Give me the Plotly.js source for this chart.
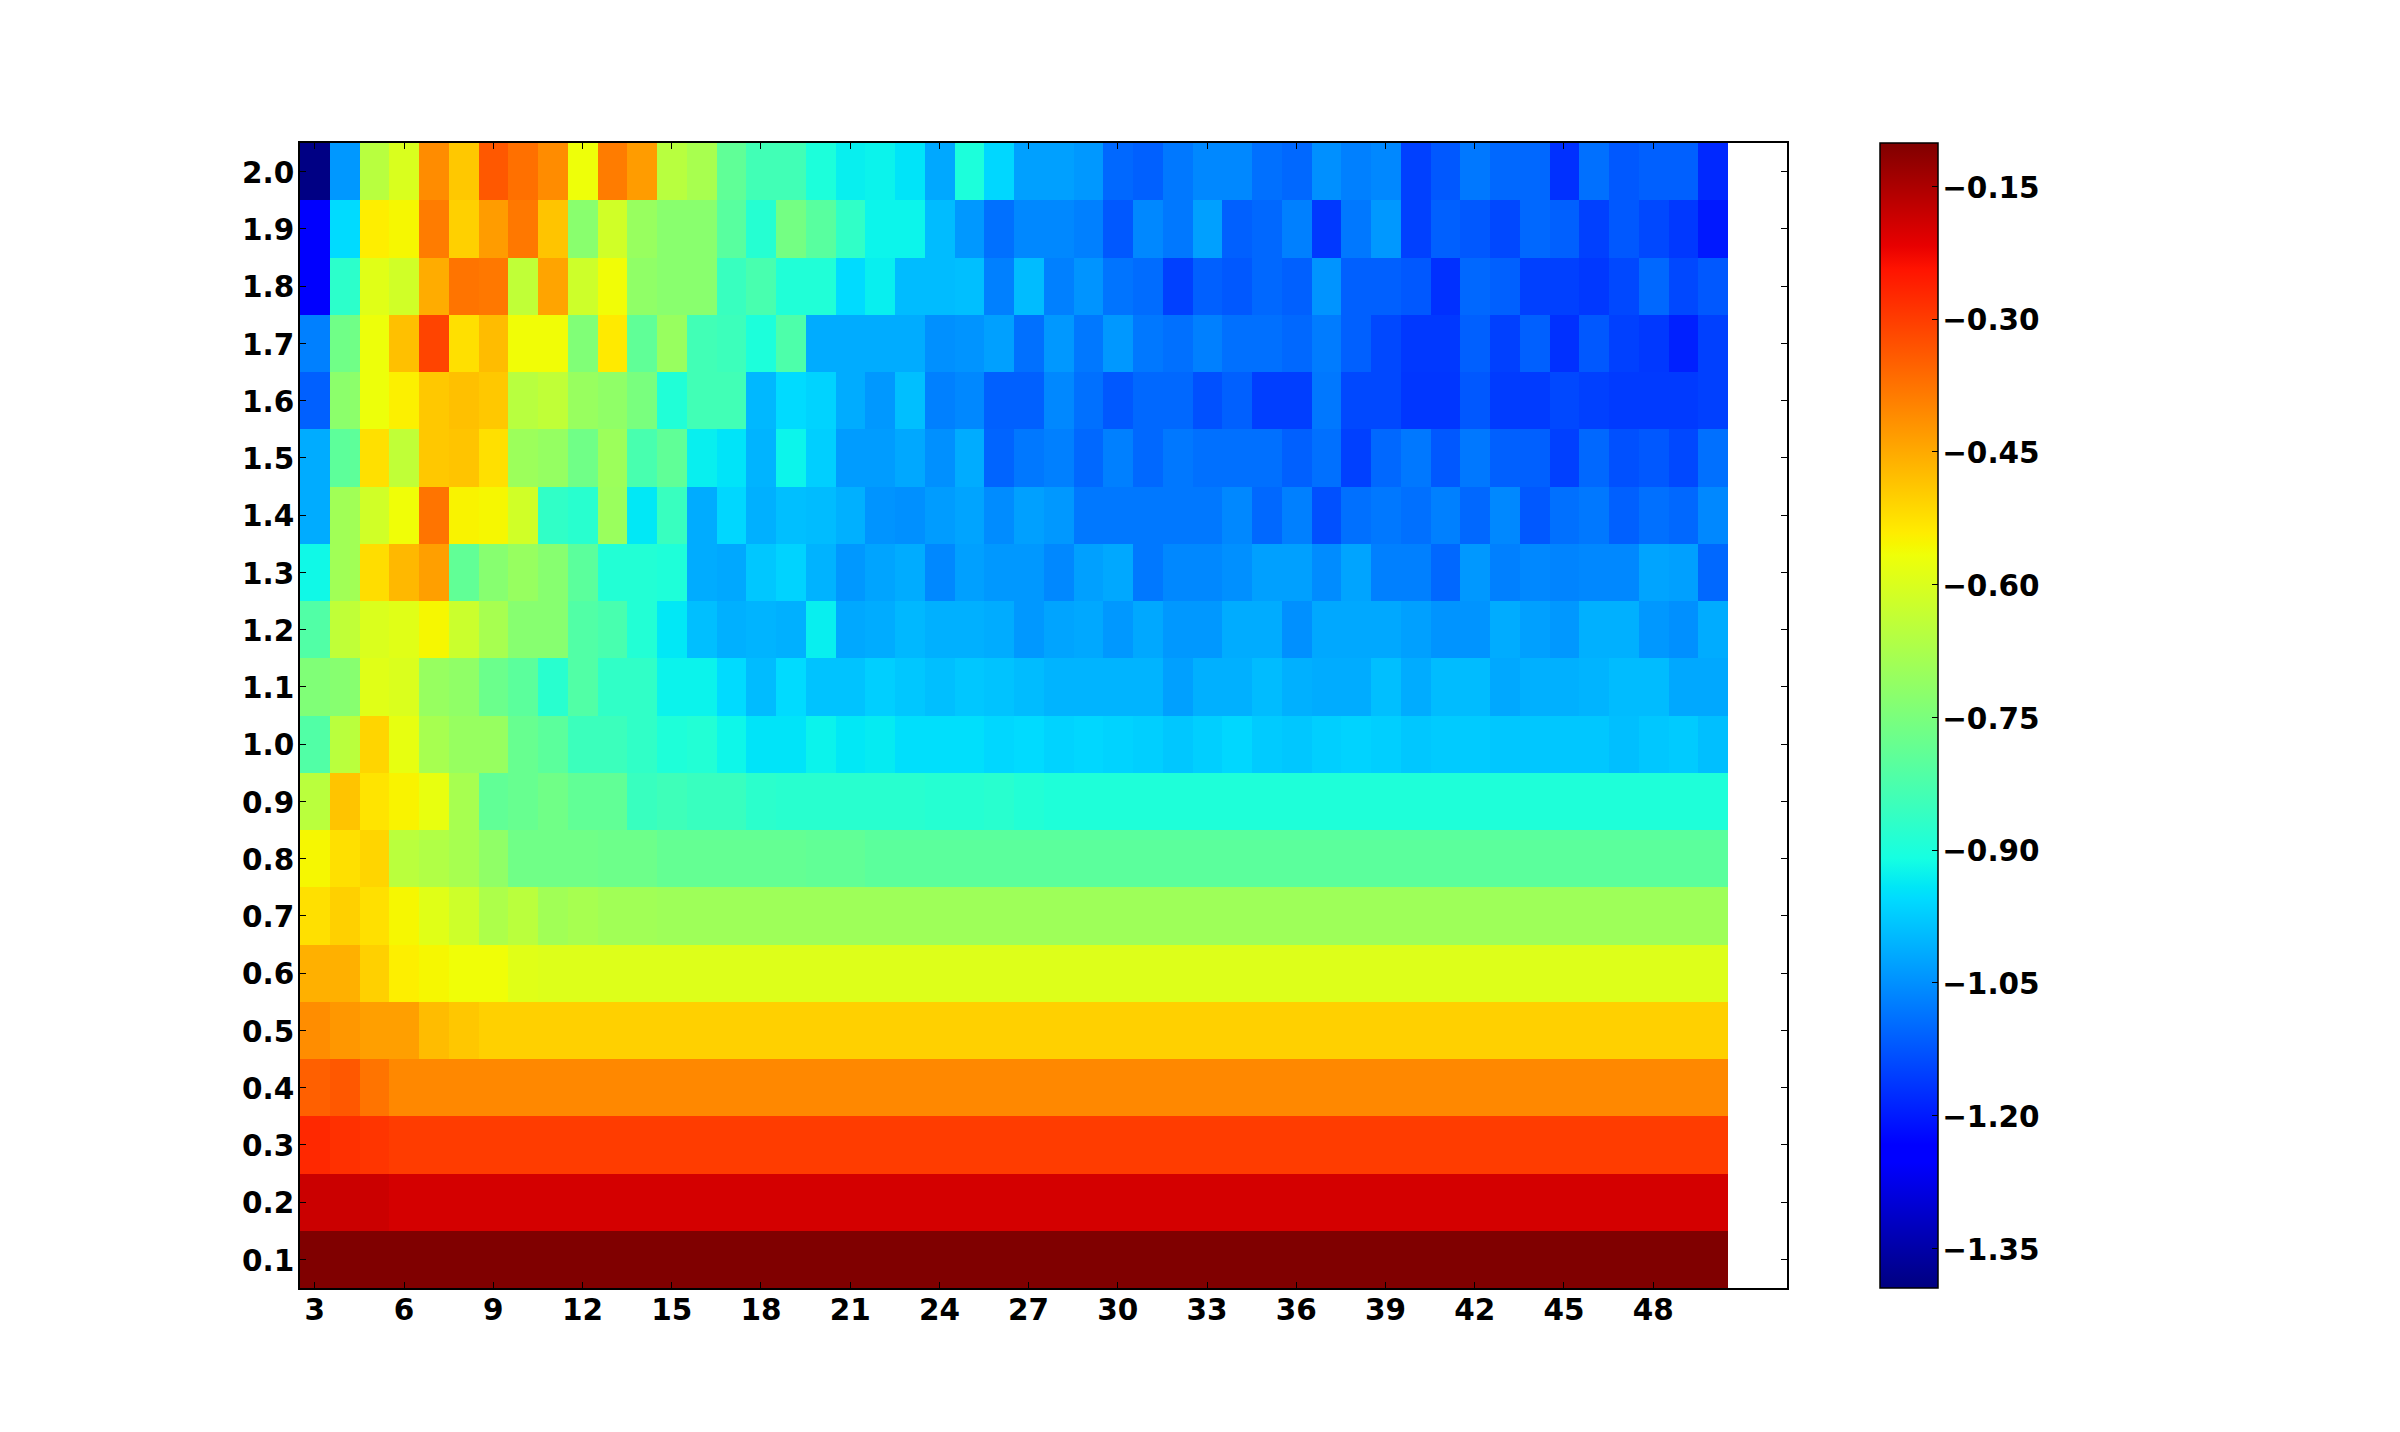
<!DOCTYPE html>
<html>
<head>
<meta charset="utf-8">
<script src="https://cdn.plot.ly/plotly-3.0.1.min.js"></script>
<style>
html, body { margin: 0; padding: 0; background: #fff; }
#chart { width: 2400px; height: 1432px; }
</style>
</head>
<body>
<div id="chart"></div>
<script>
// column positions 3..50, row positions 0.1..2.0
const columns = [3,4,5,6,7,8,9,10,11,12,13,14,15,16,17,18,19,20,21,22,23,24,25,26,27,28,29,30,31,32,33,34,35,36,37,38,39,40,41,42,43,44,45,46,47,48,49,50];
const rows = [0.1,0.2,0.3,0.4,0.5,0.6,0.7,0.8,0.9,1.0,1.1,1.2,1.3,1.4,1.5,1.6,1.7,1.8,1.9,2.0];

const xTicks = [3,6,9,12,15,18,21,24,27,30,33,36,39,42,45,48];
const yTicks = rows;
const yTickLabels = ["0.1","0.2","0.3","0.4","0.5","0.6","0.7","0.8","0.9","1.0","1.1","1.2","1.3","1.4","1.5","1.6","1.7","1.8","1.9","2.0"];
const barTicks = [-0.15,-0.30,-0.45,-0.60,-0.75,-0.90,-1.05,-1.20,-1.35];
const barTickLabels = ["\u22120.15","\u22120.30","\u22120.45","\u22120.60","\u22120.75","\u22120.90","\u22121.05","\u22121.20","\u22121.35"];

const row01 = [-0.101,-0.101,-0.101,-0.101,-0.101,-0.101,-0.101,-0.101,-0.101,-0.101,-0.101,-0.101,-0.101,-0.101,-0.101,-0.101,-0.101,-0.101,-0.101,-0.101,-0.101,-0.101,-0.101,-0.101,-0.101,-0.101,-0.101,-0.101,-0.101,-0.101,-0.101,-0.101,-0.101,-0.101,-0.101,-0.101,-0.101,-0.101,-0.101,-0.101,-0.101,-0.101,-0.101,-0.101,-0.101,-0.101,-0.101,-0.101];
const row02 = [-0.185,-0.185,-0.185,-0.195,-0.195,-0.195,-0.195,-0.195,-0.195,-0.195,-0.195,-0.195,-0.195,-0.195,-0.195,-0.195,-0.195,-0.195,-0.195,-0.195,-0.195,-0.195,-0.195,-0.195,-0.195,-0.195,-0.195,-0.195,-0.195,-0.195,-0.195,-0.195,-0.195,-0.195,-0.195,-0.195,-0.195,-0.195,-0.195,-0.195,-0.195,-0.195,-0.195,-0.195,-0.195,-0.195,-0.195,-0.195];
const row03 = [-0.272,-0.283,-0.290,-0.300,-0.300,-0.300,-0.300,-0.300,-0.300,-0.300,-0.300,-0.300,-0.300,-0.300,-0.300,-0.300,-0.300,-0.300,-0.300,-0.300,-0.300,-0.300,-0.300,-0.300,-0.300,-0.300,-0.300,-0.300,-0.300,-0.300,-0.300,-0.300,-0.300,-0.300,-0.300,-0.300,-0.300,-0.300,-0.300,-0.300,-0.300,-0.300,-0.300,-0.300,-0.300,-0.300,-0.300,-0.300];
const row04 = [-0.349,-0.338,-0.377,-0.404,-0.404,-0.404,-0.404,-0.404,-0.404,-0.404,-0.404,-0.404,-0.404,-0.404,-0.404,-0.404,-0.404,-0.404,-0.404,-0.404,-0.404,-0.404,-0.404,-0.404,-0.404,-0.404,-0.404,-0.404,-0.404,-0.404,-0.404,-0.404,-0.404,-0.404,-0.404,-0.404,-0.404,-0.404,-0.404,-0.404,-0.404,-0.404,-0.404,-0.404,-0.404,-0.404,-0.404,-0.404];
const row05 = [-0.410,-0.425,-0.436,-0.436,-0.475,-0.490,-0.502,-0.502,-0.502,-0.502,-0.502,-0.502,-0.502,-0.502,-0.502,-0.502,-0.502,-0.502,-0.502,-0.502,-0.502,-0.502,-0.502,-0.502,-0.502,-0.502,-0.502,-0.502,-0.502,-0.502,-0.502,-0.502,-0.502,-0.502,-0.502,-0.502,-0.502,-0.502,-0.502,-0.502,-0.502,-0.502,-0.502,-0.502,-0.502,-0.502,-0.502,-0.502];
const row06 = [-0.458,-0.458,-0.502,-0.545,-0.555,-0.565,-0.565,-0.590,-0.595,-0.595,-0.595,-0.595,-0.595,-0.595,-0.595,-0.595,-0.595,-0.595,-0.595,-0.595,-0.595,-0.595,-0.595,-0.595,-0.595,-0.595,-0.595,-0.595,-0.595,-0.595,-0.595,-0.595,-0.595,-0.595,-0.595,-0.595,-0.595,-0.595,-0.595,-0.595,-0.595,-0.595,-0.595,-0.595,-0.595,-0.595,-0.595,-0.595];
const row07 = [-0.524,-0.502,-0.524,-0.556,-0.590,-0.620,-0.670,-0.650,-0.690,-0.680,-0.690,-0.690,-0.695,-0.695,-0.695,-0.695,-0.695,-0.695,-0.695,-0.695,-0.695,-0.695,-0.695,-0.695,-0.695,-0.695,-0.695,-0.695,-0.695,-0.695,-0.695,-0.695,-0.695,-0.695,-0.695,-0.695,-0.695,-0.695,-0.695,-0.695,-0.695,-0.695,-0.695,-0.695,-0.695,-0.695,-0.695,-0.695];
const row08 = [-0.556,-0.524,-0.510,-0.650,-0.665,-0.680,-0.716,-0.766,-0.766,-0.766,-0.772,-0.772,-0.785,-0.785,-0.785,-0.785,-0.785,-0.790,-0.790,-0.800,-0.800,-0.800,-0.800,-0.800,-0.800,-0.800,-0.800,-0.800,-0.800,-0.800,-0.800,-0.800,-0.800,-0.800,-0.800,-0.800,-0.800,-0.800,-0.800,-0.800,-0.800,-0.800,-0.800,-0.800,-0.800,-0.800,-0.800,-0.800];
const row09 = [-0.650,-0.486,-0.530,-0.550,-0.578,-0.680,-0.790,-0.780,-0.766,-0.790,-0.790,-0.855,-0.845,-0.855,-0.855,-0.875,-0.880,-0.880,-0.880,-0.880,-0.880,-0.885,-0.885,-0.880,-0.890,-0.895,-0.895,-0.895,-0.895,-0.895,-0.895,-0.895,-0.895,-0.895,-0.895,-0.895,-0.895,-0.895,-0.895,-0.895,-0.895,-0.895,-0.895,-0.895,-0.895,-0.895,-0.895,-0.895];
const row10 = [-0.816,-0.650,-0.510,-0.580,-0.680,-0.705,-0.705,-0.780,-0.800,-0.850,-0.850,-0.867,-0.895,-0.890,-0.920,-0.945,-0.945,-0.925,-0.940,-0.935,-0.950,-0.950,-0.950,-0.960,-0.955,-0.965,-0.960,-0.965,-0.970,-0.980,-0.970,-0.960,-0.975,-0.980,-0.970,-0.965,-0.970,-0.980,-0.975,-0.975,-0.980,-0.980,-0.980,-0.980,-0.990,-0.980,-0.975,-0.990];
const row11 = [-0.741,-0.730,-0.590,-0.600,-0.705,-0.716,-0.775,-0.800,-0.880,-0.816,-0.867,-0.867,-0.925,-0.925,-0.955,-0.995,-0.955,-0.985,-0.985,-0.970,-0.980,-0.990,-0.980,-0.985,-0.995,-1.005,-1.005,-1.005,-1.005,-1.030,-1.010,-1.010,-0.995,-1.010,-1.015,-1.015,-0.990,-1.015,-0.995,-0.995,-1.020,-1.010,-1.010,-1.005,-0.995,-0.995,-1.020,-1.020];
const row12 = [-0.816,-0.640,-0.600,-0.590,-0.555,-0.625,-0.680,-0.730,-0.730,-0.816,-0.830,-0.890,-0.940,-0.990,-1.010,-1.005,-1.010,-0.930,-1.020,-1.015,-1.000,-1.010,-1.010,-1.015,-1.040,-1.025,-1.020,-1.040,-1.020,-1.040,-1.040,-1.015,-1.015,-1.050,-1.020,-1.020,-1.020,-1.030,-1.045,-1.045,-1.015,-1.030,-1.040,-1.010,-1.010,-1.040,-1.050,-1.015];
const row13 = [-0.917,-0.690,-0.520,-0.470,-0.436,-0.790,-0.730,-0.705,-0.730,-0.800,-0.890,-0.890,-0.895,-1.015,-1.020,-0.980,-0.965,-1.006,-1.040,-1.025,-1.015,-1.060,-1.030,-1.040,-1.040,-1.060,-1.030,-1.020,-1.081,-1.060,-1.060,-1.050,-1.030,-1.030,-1.055,-1.025,-1.071,-1.071,-1.101,-1.040,-1.071,-1.060,-1.065,-1.060,-1.060,-1.025,-1.030,-1.101];
const row14 = [-1.015,-0.690,-0.615,-0.565,-0.376,-0.550,-0.555,-0.615,-0.867,-0.880,-0.700,-0.940,-0.855,-1.015,-0.960,-1.010,-0.990,-0.995,-1.010,-1.045,-1.050,-1.035,-1.025,-1.055,-1.030,-1.040,-1.081,-1.081,-1.081,-1.081,-1.081,-1.060,-1.101,-1.071,-1.131,-1.091,-1.081,-1.091,-1.071,-1.101,-1.060,-1.121,-1.091,-1.081,-1.111,-1.091,-1.101,-1.060];
const row15 = [-1.015,-0.797,-0.524,-0.640,-0.491,-0.486,-0.524,-0.697,-0.709,-0.766,-0.697,-0.829,-0.791,-0.930,-0.945,-1.005,-0.923,-0.970,-1.035,-1.035,-1.020,-1.050,-1.015,-1.106,-1.081,-1.071,-1.101,-1.071,-1.101,-1.081,-1.091,-1.091,-1.091,-1.111,-1.091,-1.152,-1.101,-1.081,-1.121,-1.081,-1.111,-1.111,-1.152,-1.101,-1.131,-1.121,-1.142,-1.091];
const row16 = [-1.111,-0.722,-0.570,-0.546,-0.491,-0.480,-0.491,-0.653,-0.640,-0.703,-0.716,-0.753,-0.892,-0.841,-0.841,-1.000,-0.955,-0.965,-1.015,-1.040,-0.990,-1.071,-1.060,-1.111,-1.111,-1.060,-1.091,-1.121,-1.101,-1.101,-1.131,-1.111,-1.155,-1.155,-1.081,-1.142,-1.142,-1.165,-1.165,-1.121,-1.158,-1.158,-1.142,-1.152,-1.160,-1.160,-1.160,-1.152];
const row17 = [-1.071,-0.766,-0.570,-0.480,-0.310,-0.524,-0.475,-0.564,-0.564,-0.741,-0.538,-0.791,-0.703,-0.841,-0.848,-0.898,-0.822,-1.015,-1.015,-1.015,-1.015,-1.050,-1.045,-1.030,-1.091,-1.040,-1.081,-1.040,-1.081,-1.091,-1.071,-1.091,-1.091,-1.101,-1.076,-1.111,-1.142,-1.162,-1.162,-1.111,-1.152,-1.111,-1.172,-1.121,-1.152,-1.162,-1.192,-1.152];
const row18 = [-1.250,-0.873,-0.590,-0.615,-0.453,-0.376,-0.382,-0.640,-0.442,-0.620,-0.564,-0.716,-0.728,-0.728,-0.854,-0.829,-0.892,-0.892,-0.955,-0.930,-0.995,-0.995,-0.990,-1.071,-0.995,-1.071,-1.045,-1.086,-1.096,-1.152,-1.111,-1.121,-1.101,-1.111,-1.045,-1.111,-1.111,-1.121,-1.172,-1.101,-1.111,-1.152,-1.152,-1.162,-1.142,-1.101,-1.142,-1.121];
const row19 = [-1.250,-0.955,-0.543,-0.555,-0.387,-0.502,-0.431,-0.382,-0.486,-0.728,-0.615,-0.703,-0.728,-0.728,-0.804,-0.885,-0.760,-0.804,-0.867,-0.923,-0.923,-0.995,-1.040,-1.091,-1.060,-1.060,-1.071,-1.121,-1.060,-1.081,-1.030,-1.111,-1.101,-1.071,-1.162,-1.081,-1.040,-1.152,-1.111,-1.121,-1.142,-1.101,-1.111,-1.152,-1.121,-1.142,-1.162,-1.203];
const row20 = [-1.390,-1.040,-0.653,-0.602,-0.409,-0.491,-0.338,-0.371,-0.409,-0.568,-0.387,-0.431,-0.653,-0.678,-0.791,-0.841,-0.841,-0.898,-0.930,-0.925,-0.945,-1.020,-0.898,-0.960,-1.030,-1.030,-1.040,-1.101,-1.111,-1.081,-1.060,-1.060,-1.091,-1.101,-1.050,-1.071,-1.060,-1.152,-1.121,-1.081,-1.101,-1.101,-1.172,-1.091,-1.121,-1.111,-1.111,-1.182];

const zGrid = [row01,row02,row03,row04,row05,row06,row07,row08,row09,row10,row11,row12,row13,row14,row15,row16,row17,row18,row19,row20];

// matplotlib jet, the break points of its segments
const jet = [
    [0, 'rgb(0,0,128)'],
    [0.11, 'rgb(0,0,255)'],
    [0.125, 'rgb(0,0,255)'],
    [0.34, 'rgb(0,219,255)'],
    [0.35, 'rgb(0,230,247)'],
    [0.375, 'rgb(21,255,226)'],
    [0.64, 'rgb(239,255,8)'],
    [0.65, 'rgb(247,246,0)'],
    [0.66, 'rgb(255,236,0)'],
    [0.89, 'rgb(255,19,0)'],
    [0.91, 'rgb(232,0,0)'],
    [1, 'rgb(128,0,0)']
];

const boldFont = { family: '"DejaVu Sans", sans-serif', size: 29.5, weight: 700, color: '#000' };

let data = [{
    type: 'heatmap',
    x: columns,
    y: rows,
    z: zGrid,
    zmin: -1.395,
    zmax: -0.101,
    zsmooth: false,
    colorscale: jet,
    colorbar: {
        x: 1.0625,
        xanchor: 'left',
        y: 0.5,
        yanchor: 'middle',
        len: 1,
        lenmode: 'fraction',
        thickness: 58,
        thicknessmode: 'pixels',
        xpad: 0,
        ypad: 0,
        outlinecolor: '#000',
        outlinewidth: 1.5,
        ticks: 'inside',
        ticklen: 6,
        tickwidth: 1,
        tickcolor: '#000',
        tickmode: 'array',
        tickvals: barTicks,
        ticktext: barTickLabels,
        tickfont: boldFont
    }
}];

let layout = {
    width: 2400,
    height: 1432,
    paper_bgcolor: '#fff',
    plot_bgcolor: '#fff',
    margin: { l: 300, r: 613, t: 143, b: 144, pad: 0 },
    xaxis: {
        range: [2.5, 52.5],
        tickmode: 'array',
        tickvals: xTicks,
        ticktext: xTicks.map(String),
        ticks: 'inside',
        ticklen: 6,
        tickwidth: 1,
        tickcolor: '#000',
        ticklabelstandoff: -5,
        showline: true,
        linecolor: '#000',
        linewidth: 1.5,
        mirror: 'ticks',
        showgrid: false,
        zeroline: false,
        tickfont: boldFont
    },
    yaxis: {
        range: [0.05, 2.05],
        tickmode: 'array',
        tickvals: yTicks,
        ticktext: yTickLabels,
        ticks: 'inside',
        ticklen: 6,
        tickwidth: 1,
        tickcolor: '#000',
        ticklabelstandoff: -2,
        showline: true,
        linecolor: '#000',
        linewidth: 1.5,
        mirror: 'ticks',
        showgrid: false,
        zeroline: false,
        tickfont: boldFont
    }
};

Plotly.newPlot('chart', data, layout, { displayModeBar: false, responsive: false }).then(function () {
    // colorbar has no standoff option, nudge the labels by hand
    document.querySelectorAll('.cbaxis text').forEach(function (t) {
        t.setAttribute('x', parseFloat(t.getAttribute('x')) - 3);
        t.setAttribute('y', parseFloat(t.getAttribute('y')) + 1);
    });
    document.querySelectorAll('.ytick text').forEach(function (t) {
        t.setAttribute('y', parseFloat(t.getAttribute('y')) + 1);
    });
});
</script>
</body>
</html>
